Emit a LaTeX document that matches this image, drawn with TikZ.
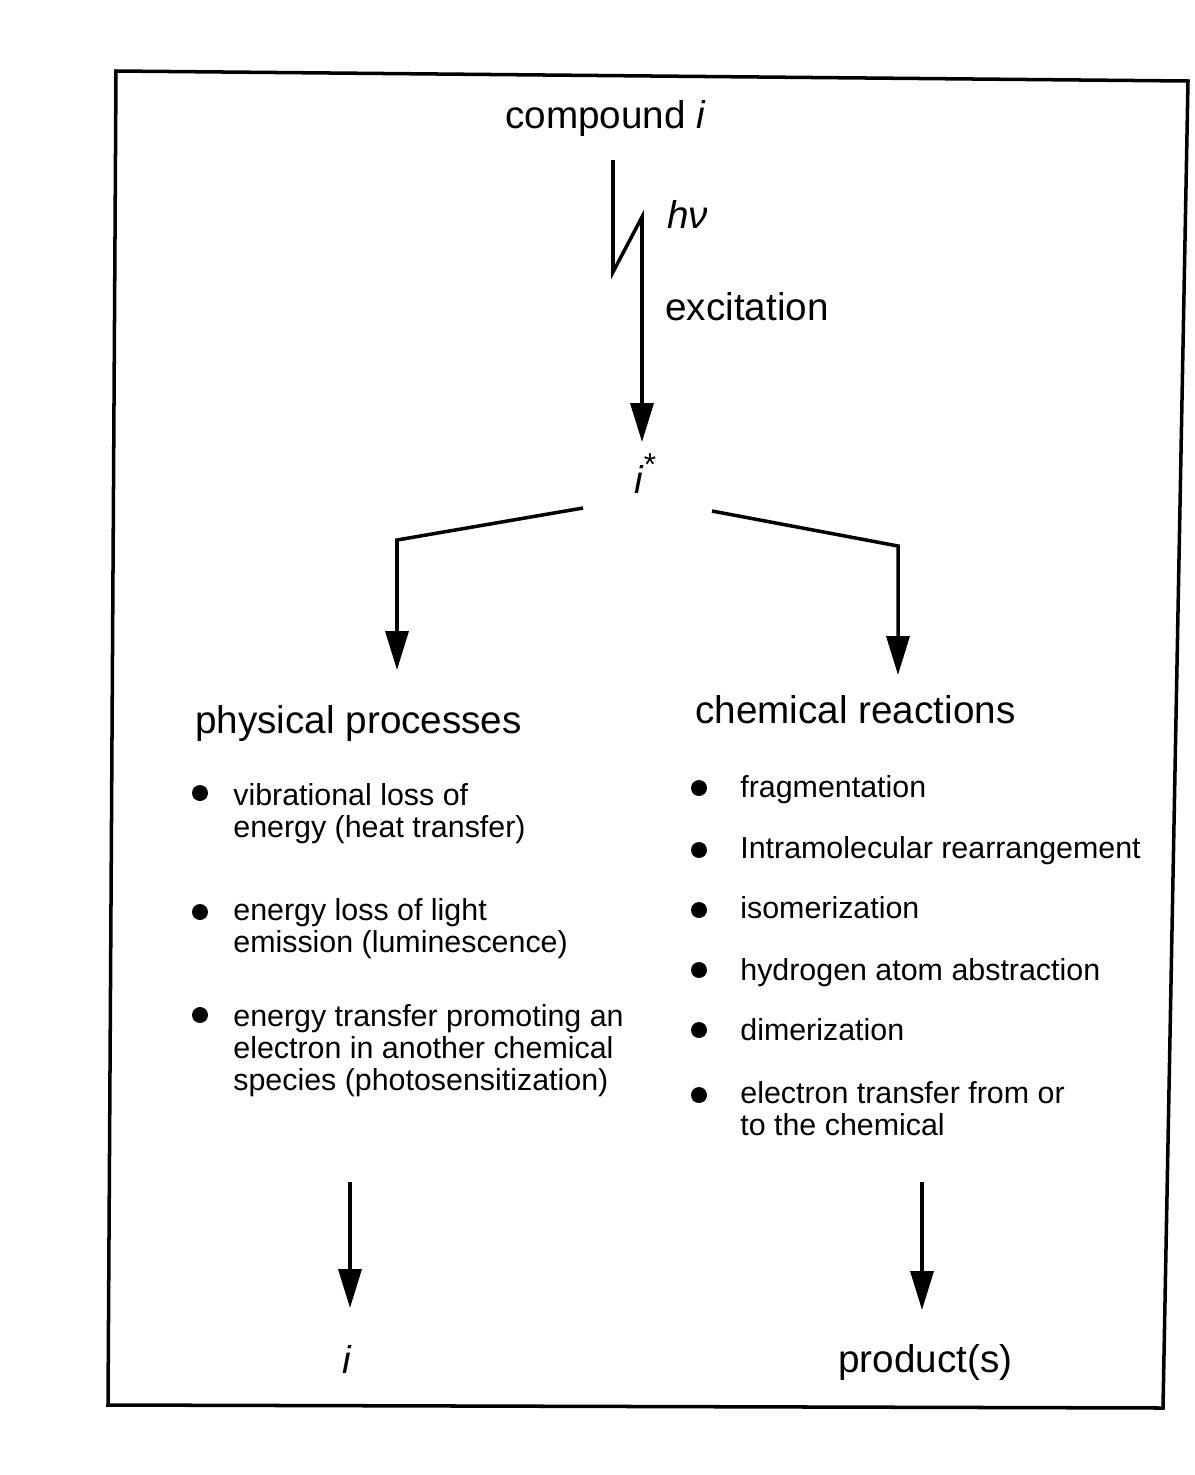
\documentclass[tikz,border=0pt]{standalone}
\usepackage{fontspec}
\setmainfont{Liberation Sans}
\usetikzlibrary{arrows.meta}

\begin{document}
\begin{tikzpicture}[x=0.02cm,y=-0.02cm,
	arr/.style={line width=2pt,-{Triangle[length=0.78cm,width=0.46cm]}},
	head/.style={anchor=base west,inner sep=0pt,font=\fontsize{22}{26}\selectfont},
	item/.style={anchor=base west,inner sep=0pt,align=left,font=\fontsize{17.3}{18.2}\selectfont},
	dot/.style={circle,fill=black,inner sep=0pt,minimum size=0.32cm}]
				\useasboundingbox (0,0) rectangle (1195,1475);
				\draw[line width=2pt] (116,71) -- (1188,81) -- (1163,1408) -- (108,1405) -- cycle;
				
				\node[head] (cmpd) at (505,128) {compound \textit{i}};
				\node[head] (hnu) at (667,228) {\textit{hν}};
				\node[head] (excit) at (665,320) {excitation};
				\node[head] (istar) at (634,493) {\textit{i}\raisebox{0.45em}{\fontsize{18}{18}\selectfont *}};
				
				\coordinate (z1) at (613,160);
				\coordinate (z2) at (613,272);
				\coordinate (z3) at (642,217);
				\coordinate (z4) at (642,442);
				\draw[arr] (z1) -- (z2) -- (z3) -- (z4);
				
				\coordinate (l1) at (583,508);
				\coordinate (l2) at (397,540);
				\coordinate (l3) at (397,670);
				\draw[arr] (l1) -- (l2) -- (l3);
				\coordinate (r1) at (712,511);
				\coordinate (r2) at (898,546);
				\coordinate (r3) at (898,675);
				\draw[arr] (r1) -- (r2) -- (r3);
				
				\node[head] (phys) at (195,733) {physical processes};
				\node[head] (chem) at (695,723) {chemical reactions};
				
				% multi-line items sit on the baseline of their last line
				\node[dot] (pd1) at (200,793) {};
				\node[item] (p1) at (233,837) {vibrational loss of\\energy (heat transfer)};
				\node[dot] (pd2) at (200,912) {};
				\node[item] (p2) at (233,952) {energy loss of light\\emission (luminescence)};
				\node[dot] (pd3) at (200,1015) {};
				\node[item] (p3) at (233,1090) {energy transfer promoting an\\electron in another chemical\\species (photosensitization)};
				
				\node[dot] (cd1) at (699,788) {};
				\node[item] (c1) at (740,797) {fragmentation};
				\node[dot] (cd2) at (699,850) {};
				\node[item] (c2) at (740,858) {Intramolecular rearrangement};
				\node[dot] (cd3) at (699,910) {};
				\node[item] (c3) at (740,918) {isomerization};
				\node[dot] (cd4) at (699,970) {};
				\node[item] (c4) at (740,980) {hydrogen atom abstraction};
				\node[dot] (cd5) at (699,1030) {};
				\node[item] (c5) at (740,1040) {dimerization};
				\node[dot] (cd6) at (699,1095) {};
				\node[item] (c6) at (740,1135) {electron transfer from or\\to the chemical};
				
				\coordinate (b1) at (350,1182);
				\coordinate (b2) at (350,1308);
				\draw[arr] (b1) -- (b2);
				\coordinate (b3) at (922,1182);
				\coordinate (b4) at (922,1310);
				\draw[arr] (b3) -- (b4);
				
				\node[head] (iend) at (342,1373) {\textit{i}};
				\node[head] (prod) at (838,1372) {product(s)};
			\end{tikzpicture}
\end{document}
